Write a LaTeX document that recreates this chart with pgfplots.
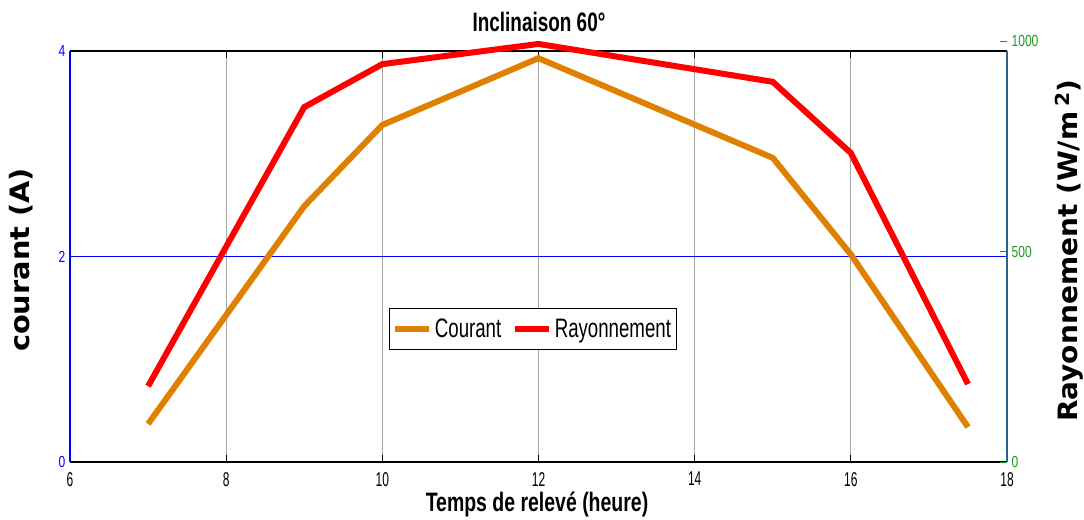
\documentclass[border=0pt]{standalone}
\usepackage{pgfplots}
\pgfplotsset{compat=1.18}
\usepackage{fontspec}
\setmainfont{Liberation Sans}
\newfontfamily\labfont{DejaVu Sans}
\usepackage{graphicx}
\definecolor{cour}{RGB}{224,128,0}
\definecolor{ray}{RGB}{255,0,0}
\definecolor{tgreen}{RGB}{30,150,30}
\definecolor{teal2}{RGB}{40,100,140}
\begin{document}
\begin{tikzpicture}
\useasboundingbox (0,0) rectangle (813pt,390pt);
\begin{axis}[
 at={(52.5pt,43.5pt)}, anchor=south west,
 width=702.75pt, height=308.25pt, scale only axis,
 xmin=6, xmax=18, ymin=0, ymax=4,
 xtick={6,8,...,18}, ytick={0,2,4},
 axis line style={draw=none},
 clip=false,
 xmajorgrids, ymajorgrids,
 x grid style={gray!70, line width=0.6pt},
 y grid style={blue, line width=0.5pt},
 tick align=inside,
 xtick pos=both, ytick pos=both,
 x tick style={black, line width=0.8pt},
 y tick style={blue, line width=0.6pt},
 major tick length=5pt,
 /pgf/number format/assume math mode=true,
 xticklabel={\scalebox{0.6}[1]{\fontsize{15}{15}\selectfont\pgfmathprintnumber{\tick}}},
 xticklabel style={yshift=-4pt},
 yticklabel={\scalebox{0.75}[1]{\fontsize{12}{12}\selectfont\color{blue}\pgfmathprintnumber{\tick}}},
 title={\scalebox{0.71}[1]{\fontsize{20}{20}\selectfont\bfseries Inclinaison 60°}},
 title style={at={(axis description cs:0.5005,1.0706)}, anchor=center, yshift=-6pt},
 xlabel={\scalebox{0.73}[1]{\fontsize{20}{20}\selectfont\bfseries Temps de relevé (heure)}},
 xlabel style={at={(axis description cs:0.4984,-0.1046)}, anchor=center},
 ylabel={\scalebox{1.08}[1]{\labfont\fontsize{20}{20}\selectfont\bfseries courant (A)}},
 ylabel style={at={(axis description cs:-0.0427,0.4915)}, anchor=base},
 legend columns=2,
 legend image code/.code={\draw[#1, line width=4.5pt] (0cm,0cm) -- (0.9cm,0cm);},
 legend style={at={(axis description cs:0.494,0.3236)}, anchor=center, draw=black, line width=0.8pt,
   font=\fontsize{20}{20}\selectfont, inner xsep=2pt, inner ysep=5.5pt,
   /tikz/every even column/.append style={column sep=6pt}},
]
\addplot[cour, line width=4.5pt] coordinates {(7,0.37)(9,2.49)(10,3.28)(12,3.93)(15,2.96)(16,2.02)(17.5,0.34)};
\addlegendentry{\scalebox{0.7}[1]{Courant}}
\addlegendimage{ray, line width=4.5pt}
\addlegendentry{\scalebox{0.7}[1]{Rayonnement}}
\draw[blue, line width=0.8pt] (rel axis cs:0,0) -- (rel axis cs:0,1);
\draw[black, line width=1pt] (rel axis cs:0,1) -- (rel axis cs:1,1);
\draw[black, line width=2pt] (rel axis cs:0,0) -- (rel axis cs:1,0);
\draw[teal2, line width=1pt] (rel axis cs:1,0) -- (rel axis cs:1,1);
\end{axis}
\begin{axis}[
 at={(52.5pt,43.5pt)}, anchor=south west,
 width=702.75pt, height=315.75pt, scale only axis,
 xmin=6, xmax=18, ymin=0, ymax=1000,
 axis x line=none, axis y line*=right,
 y axis line style={draw=none},
 clip=false,
 ytick={0,500,1000},
 y tick style={tgreen, line width=0.6pt},
 tick align=inside, major tick length=5pt,
 /pgf/number format/assume math mode=true,
 /pgf/number format/1000 sep={},
 yticklabel={\scalebox{0.75}[1]{\fontsize{12}{12}\selectfont\color{tgreen}\pgfmathprintnumber{\tick}}},
 ylabel={\scalebox{1.05}[1]{\labfont\fontsize{20}{20}\selectfont\bfseries Rayonnement (W/m\,\raisebox{5.5pt}{\fontsize{14.5}{14.5}\selectfont 2})}},
 ylabel style={at={(axis description cs:1.0747,0.5012)}, anchor=base},
]
\addplot[ray, line width=4.5pt] coordinates {(7,180)(9,843)(10,945)(12,993)(15,903)(16,734)(17.5,185)};
\end{axis}
\end{tikzpicture}
\end{document}
